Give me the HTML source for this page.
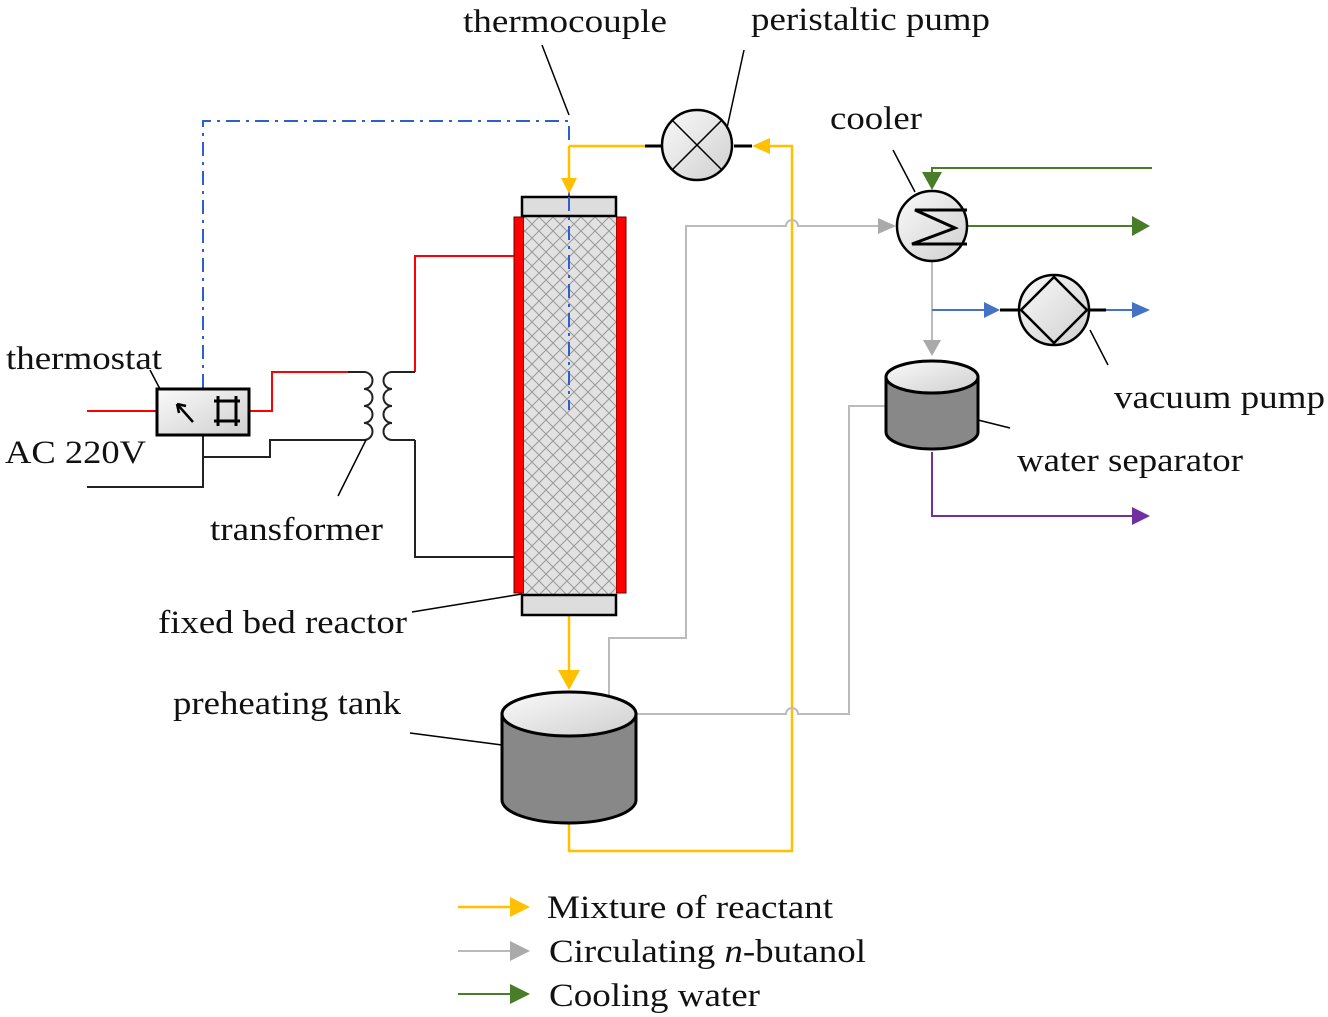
<!DOCTYPE html>
<html><head><style>body{margin:0;background:#fff}svg{display:block}text{font-family:"Liberation Serif",serif;font-size:33px;fill:#111}</style></head><body>
<svg width="1328" height="1017" viewBox="0 0 1328 1017">
<defs>
<pattern id="hatch" width="14" height="14" patternUnits="userSpaceOnUse"><rect width="14" height="14" fill="#e2e2e2"/><path d="M0 0L14 14M14 0L0 14" stroke="#999" stroke-width="1"/></pattern>
<linearGradient id="g" x1="0" y1="0" x2="1" y2="1"><stop offset="0" stop-color="#fafafa"/><stop offset="1" stop-color="#cfcfcf"/></linearGradient>
</defs>
<path d="M203 388V121H569V410" fill="none" stroke="#2f5fcf" stroke-width="2" stroke-dasharray="14,6,3,6"/>
<g stroke="#ffc000" stroke-width="2.5" fill="none">
<path d="M569 146H645M569 146V180"/>
<path d="M569 616V672"/>
<path d="M569 823V851H792V146H770"/>
<path d="M458 907H510"/>
</g>
<polygon points="561,178 577,178 569,194" fill="#ffc000"/>
<polygon points="558,670 580,670 569,690" fill="#ffc000"/>
<polygon points="770,138 770,154 752,146" fill="#ffc000"/>
<polygon points="510,897 510,917 530,907" fill="#ffc000"/>
<g stroke="#bbb" stroke-width="2" fill="none">
<path d="M932 262V342"/>
<path d="M609 714V638H686V226H786a6 6 0 0 1 12 0H880"/>
<path d="M636 714H786a6 6 0 0 1 12 0H849V406H885"/>
<path d="M458 951H510"/>
</g>
<polygon points="878,218 878,234 896,226" fill="#aaa"/>
<polygon points="923,340 941,340 932,356" fill="#aaa"/>
<polygon points="610,714 630,706 630,722" fill="#aaa"/>
<polygon points="510,941 510,961 530,951" fill="#aaa"/>
<g stroke="#4a7d28" stroke-width="2" fill="none"><path d="M932 178V168H1152"/><path d="M968 226H1132"/><path d="M458 994H510"/></g>
<polygon points="922,172 942,172 932,190" fill="#4a7d28"/>
<polygon points="1132,216 1132,236 1150,226" fill="#4a7d28"/>
<polygon points="510,984 510,1004 530,994" fill="#4a7d28"/>
<g stroke="#4472c4" stroke-width="2" fill="none"><path d="M932 310H984"/><path d="M1106 310H1132"/></g>
<polygon points="984,302 984,318 1000,310" fill="#4472c4"/>
<polygon points="1132,302 1132,318 1150,310" fill="#4472c4"/>
<path d="M1000 310H1018M1090 310H1106" stroke="#000" stroke-width="3"/>
<path d="M932 452V516H1132" stroke="#7030a0" stroke-width="2" fill="none"/>
<polygon points="1132,507 1132,525 1150,516" fill="#7030a0"/>
<path d="M87 411H157M249 411H272V372H348" stroke="#f00" stroke-width="2" fill="none"/>
<path d="M415 372V256H515" stroke="#f00" stroke-width="2" fill="none"/>
<path d="M348 372H364M203 435V487H87M203 457H270V440H366M415 440V557H515M392 372H415M392 440H415" stroke="#222" stroke-width="2" fill="none"/>
<path d="M364 372a8 8 0 0 1 0 17a8 8 0 0 1 0 17a8 8 0 0 1 0 17a8 8 0 0 1 0 17M392 372a8 8 0 0 0 0 17a8 8 0 0 0 0 17a8 8 0 0 0 0 17a8 8 0 0 0 0 17" stroke="#222" stroke-width="2" fill="none"/>
<rect x="157" y="389" width="92" height="46" fill="url(#g)" stroke="#000" stroke-width="3"/>
<path d="M193 422L177 404M177 404l2 9M177 404l9 2" stroke="#000" stroke-width="2.5" fill="none"/>
<path d="M214 401H240M214 421H240M218 396V426M236 396V426" stroke="#000" stroke-width="3"/>
<rect x="514" y="217" width="10" height="376" fill="#f00" stroke="#600" stroke-width="1"/>
<rect x="616" y="217" width="10" height="376" fill="#f00" stroke="#600" stroke-width="1"/>
<rect x="524" y="216" width="92" height="378" fill="url(#hatch)"/>
<rect x="522" y="197" width="94" height="19" fill="#ddd" stroke="#000" stroke-width="2.5"/>
<rect x="522" y="595" width="94" height="20" fill="#ddd" stroke="#000" stroke-width="2.5"/>
<path d="M569 197V410" stroke="#2f5fcf" stroke-width="2" stroke-dasharray="14,6,3,6"/>
<path d="M502 714V800A67 23 0 0 0 636 800V714Z" fill="#888" stroke="#000" stroke-width="3"/>
<ellipse cx="569" cy="714" rx="67" ry="22" fill="url(#g)" stroke="#000" stroke-width="3"/>
<path d="M886 377V432A46 17 0 0 0 978 432V377Z" fill="#888" stroke="#000" stroke-width="3"/>
<ellipse cx="932" cy="377" rx="46" ry="16" fill="url(#g)" stroke="#000" stroke-width="3"/>
<path d="M645 146H661M734 146H752" stroke="#000" stroke-width="3"/>
<circle cx="697" cy="145" r="35" fill="url(#g)" stroke="#000" stroke-width="2.5"/>
<path d="M672 120L722 170M722 120L672 170" stroke="#000" stroke-width="1.5"/>
<circle cx="932" cy="226" r="35" fill="url(#g)" stroke="#000" stroke-width="2.5"/>
<path d="M967 210H915L955 228L912 244H967" stroke="#000" stroke-width="3" fill="none"/>
<circle cx="1054" cy="310" r="35" fill="url(#g)" stroke="#000" stroke-width="2.5"/>
<path d="M1054 277L1087 310L1054 343L1021 310Z" fill="none" stroke="#000" stroke-width="2.5"/>
<g stroke="#000" stroke-width="1.5" fill="none">
<path d="M542 45L569 115M744 50L727 128M893 150L915 192M1090 330L1108 365M978 420L1010 428M150 370L160 389M366 440L338 496M412 612L522 594M410 733L502 745"/>
</g>
<text x="463" y="32" textLength="204" lengthAdjust="spacingAndGlyphs">thermocouple</text>
<text x="751" y="30" textLength="239" lengthAdjust="spacingAndGlyphs">peristaltic pump</text>
<text x="830" y="129" textLength="92" lengthAdjust="spacingAndGlyphs">cooler</text>
<text x="6" y="369" textLength="156" lengthAdjust="spacingAndGlyphs">thermostat</text>
<text x="5" y="463" textLength="141" lengthAdjust="spacingAndGlyphs">AC 220V</text>
<text x="210" y="540" textLength="173" lengthAdjust="spacingAndGlyphs">transformer</text>
<text x="158" y="633" textLength="249" lengthAdjust="spacingAndGlyphs">fixed bed reactor</text>
<text x="173" y="714" textLength="228" lengthAdjust="spacingAndGlyphs">preheating tank</text>
<text x="1114" y="408" textLength="211" lengthAdjust="spacingAndGlyphs">vacuum pump</text>
<text x="1017" y="471" textLength="226" lengthAdjust="spacingAndGlyphs">water separator</text>
<text x="547" y="918" textLength="286" lengthAdjust="spacingAndGlyphs">Mixture of reactant</text>
<text x="549" y="962" textLength="317" lengthAdjust="spacingAndGlyphs">Circulating <tspan font-style="italic">n</tspan>-butanol</text>
<text x="549" y="1006" textLength="211" lengthAdjust="spacingAndGlyphs">Cooling water</text>
</svg>
</body></html>
